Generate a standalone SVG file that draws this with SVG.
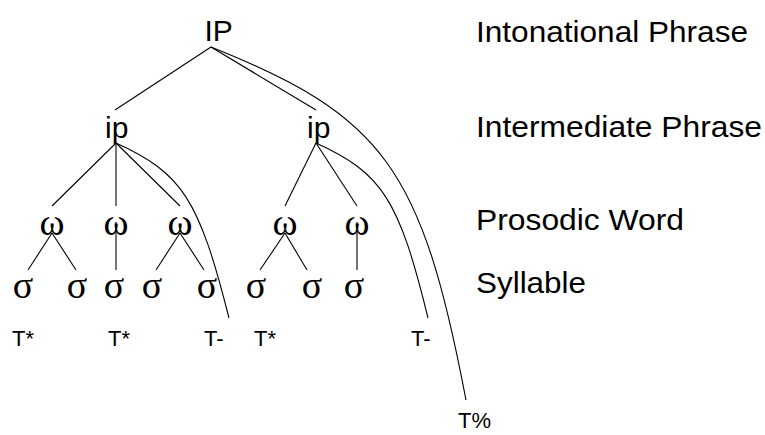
<svg xmlns="http://www.w3.org/2000/svg" width="765" height="435" viewBox="0 0 765 435">
<style>
.bg{fill:#ffffff}
.lbl{font-family:"Liberation Sans",Arial,sans-serif;fill:#000}
.big{font-size:29.5px}
.node{font-size:30px}
.gr{font-family:"Liberation Serif","Times New Roman",serif;font-size:38px;fill:#000;text-anchor:middle}
.t{font-size:22px}
.edge{fill:none;stroke:#000;stroke-width:1.1}
</style>
<rect class="bg" x="0" y="0" width="765" height="435"/>
<g id="connectors">
<line class="edge" x1="211" y1="47" x2="115" y2="110"/>
<line class="edge" x1="211" y1="47" x2="316" y2="110"/>
<path class="edge" d="M211,47 C384,116 422,169 466,400"/>
<line class="edge" x1="116" y1="143" x2="52" y2="206"/>
<line class="edge" x1="116" y1="143" x2="116" y2="206"/>
<line class="edge" x1="116" y1="143" x2="180" y2="206"/>
<path class="edge" d="M116,143 C182,173 199,199 229,318"/>
<line class="edge" x1="316" y1="143" x2="285" y2="206"/>
<line class="edge" x1="316" y1="143" x2="357" y2="206"/>
<path class="edge" d="M316,143 C382,173 399,199 428,318"/>
<line class="edge" x1="52" y1="233" x2="28" y2="270"/>
<line class="edge" x1="52" y1="233" x2="76" y2="270"/>
<line class="edge" x1="116" y1="222" x2="116" y2="270"/>
<line class="edge" x1="180" y1="233" x2="156" y2="270"/>
<line class="edge" x1="180" y1="233" x2="204" y2="270"/>
<line class="edge" x1="285" y1="233" x2="260" y2="270"/>
<line class="edge" x1="285" y1="233" x2="307" y2="270"/>
<line class="edge" x1="357" y1="222" x2="357" y2="270"/>
</g>
<g id="IP"><text class="lbl node" x="204.5" y="41">IP</text></g>
<g id="ip1"><text class="lbl node" x="105" y="138">ip</text></g>
<g id="ip2"><text class="lbl node" x="307" y="138">ip</text></g>
<g id="w1"><text class="gr" x="52" y="235">ω</text></g>
<g id="w2"><text class="gr" x="116" y="235">ω</text></g>
<g id="w3"><text class="gr" x="180" y="235">ω</text></g>
<g id="w4"><text class="gr" x="285" y="235">ω</text></g>
<g id="w5"><text class="gr" x="357" y="235">ω</text></g>
<g id="s1"><text class="gr" x="23" y="298">σ</text></g>
<g id="s2"><text class="gr" x="77" y="298">σ</text></g>
<g id="s3"><text class="gr" x="114" y="298">σ</text></g>
<g id="s4"><text class="gr" x="152" y="298">σ</text></g>
<g id="s5"><text class="gr" x="207" y="298">σ</text></g>
<g id="s6"><text class="gr" x="256" y="298">σ</text></g>
<g id="s7"><text class="gr" x="312" y="298">σ</text></g>
<g id="s8"><text class="gr" x="354" y="298">σ</text></g>
<g id="t1"><text class="lbl t" x="12" y="346">T*</text></g>
<g id="t2"><text class="lbl t" x="108" y="346">T*</text></g>
<g id="t3"><text class="lbl t" x="204" y="346">T-</text></g>
<g id="t4"><text class="lbl t" x="254" y="346">T*</text></g>
<g id="t5"><text class="lbl t" x="411" y="346">T-</text></g>
<g id="t6"><text class="lbl t" x="458" y="428">T%</text></g>
<g id="L1"><text class="lbl big" x="476" y="42" textLength="272" lengthAdjust="spacingAndGlyphs">Intonational Phrase</text></g>
<g id="L2"><text class="lbl big" x="476" y="137" textLength="286" lengthAdjust="spacingAndGlyphs">Intermediate Phrase</text></g>
<g id="L3"><text class="lbl big" x="476" y="230" textLength="208" lengthAdjust="spacingAndGlyphs">Prosodic Word</text></g>
<g id="L4"><text class="lbl big" x="476" y="293" textLength="110" lengthAdjust="spacingAndGlyphs">Syllable</text></g>
</svg>
